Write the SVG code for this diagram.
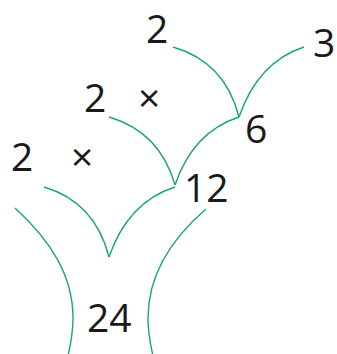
<svg xmlns="http://www.w3.org/2000/svg" width="337" height="354" viewBox="0 0 337 354">
<style>
.t{font-family:"Open Sans","Noto Sans",sans-serif;font-size:39px;fill:#1a1a1a}
.c{fill:none;stroke:#1aa863;stroke-width:1.4}
</style>
<rect width="337" height="354" fill="#fff"/>
<g id="connectors">
<path class="c" d="M173,47 Q225,62 239,117"/>
<path class="c" d="M304,47 Q258,62 239,117"/>
<path class="c" d="M109,117 Q160,132 175,185"/>
<path class="c" d="M239,117 Q193,132 175,185"/>
<path class="c" d="M44,187 Q95,202 109,257"/>
<path class="c" d="M175,187 Q128,202 109,257"/>
<path class="c" d="M15,208 C50,240 73,275 73,318 C73,332 71,343 68,356"/>
<path class="c" d="M206,209 C170,240 148,275 148,318 C148,332 150,343 153,356"/>
</g>
<g id="n2a"><text class="t" x="146" y="43">2</text></g>
<g id="n3"><text class="t" x="313" y="57">3</text></g>
<g id="n2b"><text class="t" x="84" y="112">2</text></g>
<g id="x1"><text class="t" x="138" y="112">×</text></g>
<g id="n6"><text class="t" x="245" y="143">6</text></g>
<g id="n2c"><text class="t" x="11" y="171">2</text></g>
<g id="x2"><text class="t" x="71" y="171">×</text></g>
<g id="n12"><text class="t" x="184" y="202">12</text></g>
<g id="n24"><text class="t" x="87" y="332">24</text></g>
</svg>
